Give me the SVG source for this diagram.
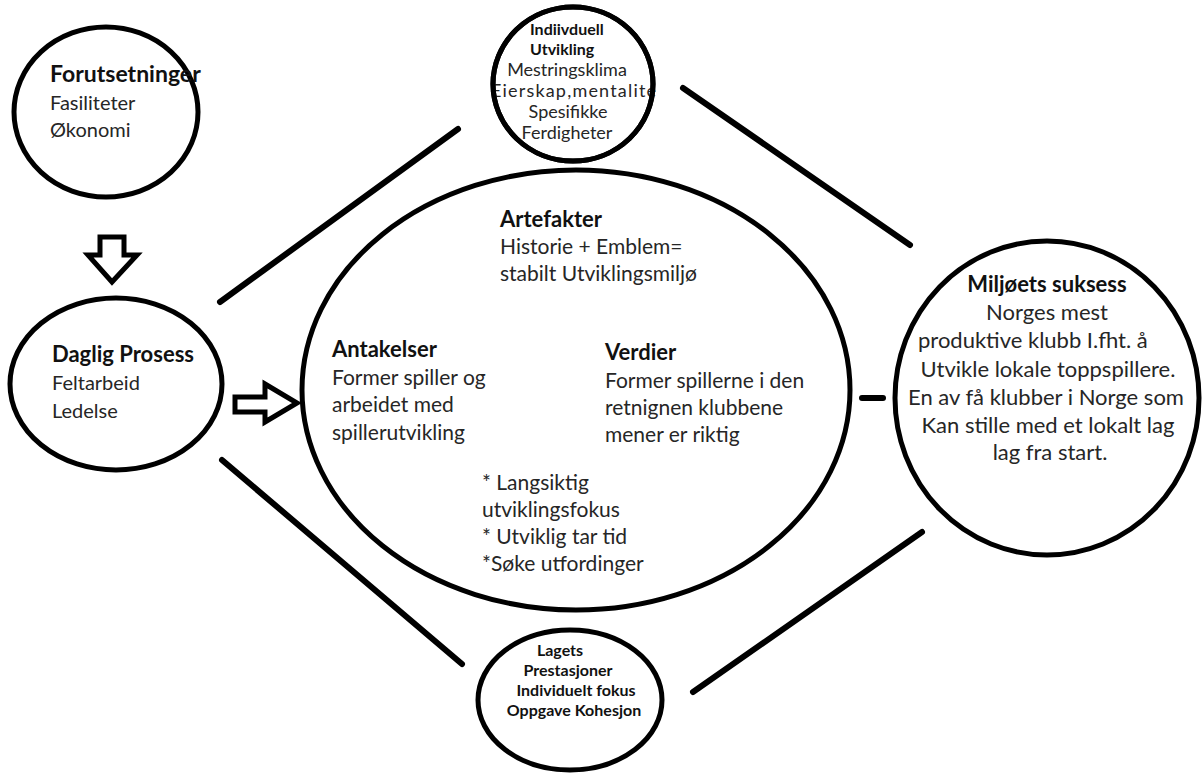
<svg xmlns="http://www.w3.org/2000/svg" width="1203" height="775" viewBox="0 0 1203 775">
<style>
  .ring { fill: #fff; stroke: #000; stroke-width: 5; }
  .outline { fill: none; stroke: #000; stroke-width: 5; }
  .con { stroke: #000; stroke-width: 6; stroke-linecap: round; fill: none; }
  .arrow { fill: #fff; stroke: #000; stroke-width: 5; stroke-linejoin: miter; }
  text { font-family: Lato, "Liberation Sans", sans-serif; fill: #262626; }
  .b { font-weight: bold; fill: #111; }
  .t23 { font-size: 23px; }
  .t22 { font-size: 22px; }
  .t21 { font-size: 21px; }
  .t20 { font-size: 20px; }
  .t18 { font-size: 18px; }
  .t16 { font-size: 16px; }
  .mid { text-anchor: middle; }
</style>
<rect width="1203" height="775" fill="#fff"/>
<g id="connectors">
  <line class="con" x1="220" y1="302" x2="458" y2="129"/>
  <line class="con" x1="683" y1="88" x2="910" y2="245"/>
  <line class="con" x1="222" y1="460" x2="462" y2="664"/>
  <line class="con" x1="693" y1="692" x2="922" y2="532"/>
  <line class="con" x1="862" y1="398" x2="883" y2="398"/>
  <polygon class="arrow" points="100,237 124,237 124,255 137,255 112,282 88,255 100,255"/>
  <polygon class="arrow" points="235,397 265,397 265,384 297,403 265,422 265,412 235,412"/>
</g>
<g id="forutsetninger">
  <ellipse class="ring" cx="106" cy="112" rx="92" ry="85"/>
  <text class="b t23" x="50" y="82">Forutsetninger</text>
  <text class="t20" x="50" y="110">Fasiliteter</text>
  <text class="t20" x="50" y="137">Økonomi</text>
</g>
<g id="daglig-prosess">
  <ellipse class="ring" cx="116" cy="384" rx="106" ry="86"/>
  <text class="b t22" x="52" y="362">Daglig Prosess</text>
  <text class="t20" x="52" y="390">Feltarbeid</text>
  <text class="t20" x="52" y="418">Ledelse</text>
</g>
<g id="individuell-utvikling">
  <ellipse class="ring" cx="573" cy="84" rx="80" ry="77"/>
  <text class="b t16" x="530" y="35">Indiivduell</text>
  <text class="b t16" x="530" y="55">Utvikling</text>
  <text class="t18 mid" x="567" y="76">Mestringsklima</text>
  <text class="t18" x="491" y="97" textLength="165">Eierskap,mentalite</text>
  <text class="t18 mid" x="568" y="118">Spesifikke</text>
  <text class="t18 mid" x="567" y="139">Ferdigheter</text>
  <ellipse class="outline" cx="573" cy="84" rx="80" ry="77"/>
</g>
<g id="kultur">
  <ellipse class="ring" cx="576" cy="390" rx="274" ry="220"/>
  <text class="b t22" x="500" y="227">Artefakter</text>
  <text class="t21" x="500" y="254">Historie + Emblem=</text>
  <text class="t21" x="500" y="281">stabilt Utviklingsmiljø</text>
  <text class="b t22" x="332" y="357">Antakelser</text>
  <text class="t21" x="332" y="385">Former spiller og</text>
  <text class="t21" x="332" y="412">arbeidet med</text>
  <text class="t21" x="332" y="440">spillerutvikling</text>
  <text class="b t22" x="605" y="360">Verdier</text>
  <text class="t21" x="605" y="388">Former spillerne i den</text>
  <text class="t21" x="605" y="415">retnignen klubbene</text>
  <text class="t21" x="605" y="442">mener er riktig</text>
  <text class="t21" x="482" y="490">* Langsiktig</text>
  <text class="t21" x="482" y="517">utviklingsfokus</text>
  <text class="t21" x="482" y="544">* Utviklig tar tid</text>
  <text class="t21" x="482" y="571">*Søke utfordinger</text>
</g>
<g id="miljoets-suksess">
  <ellipse class="ring" cx="1047" cy="398" rx="152" ry="157"/>
  <text class="b t22 mid" x="1047" y="292">Miljøets suksess</text>
  <text class="t22 mid" x="1047" y="320">Norges mest</text>
  <text class="t22" x="918" y="348">produktive klubb I.fht. å</text>
  <text class="t22 mid" x="1048" y="377">Utvikle lokale toppspillere.</text>
  <text class="t22 mid" x="1046" y="405">En av få klubber i Norge som</text>
  <text class="t22 mid" x="1048" y="433">Kan stille med et lokalt lag</text>
  <text class="t22 mid" x="1050" y="460">lag fra start.</text>
</g>
<g id="lagets-prestasjoner">
  <ellipse class="ring" cx="570" cy="700" rx="92" ry="70"/>
  <text class="b t16 mid" x="560" y="656">Lagets</text>
  <text class="b t16 mid" x="568" y="676">Prestasjoner</text>
  <text class="b t16 mid" x="576" y="696">Individuelt fokus</text>
  <text class="b t16 mid" x="574" y="716">Oppgave Kohesjon</text>
</g>
</svg>
